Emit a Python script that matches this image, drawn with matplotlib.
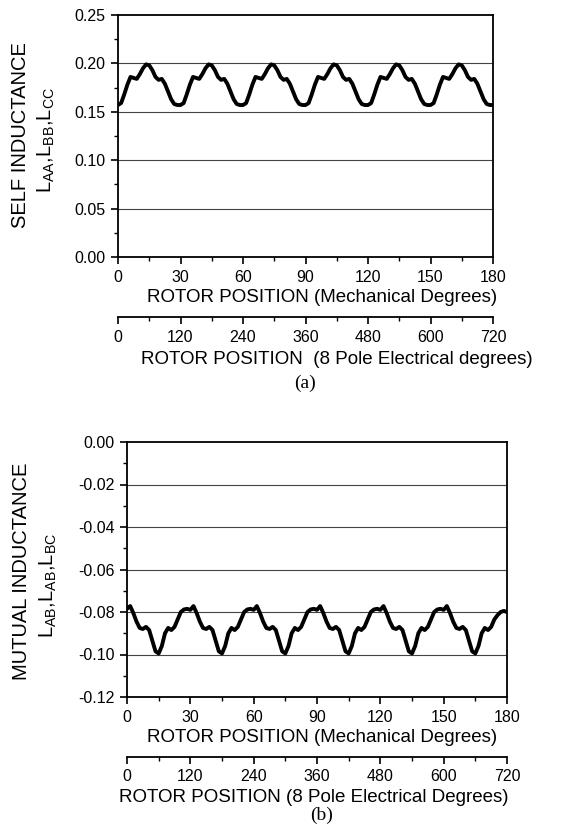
import numpy as np
import matplotlib
matplotlib.use("Agg")
import matplotlib.pyplot as plt
from matplotlib.ticker import MultipleLocator

plt.rcParams['font.family'] = ['Liberation Sans', 'DejaVu Sans']
plt.rcParams['mathtext.fontset'] = 'custom'
plt.rcParams['mathtext.rm'] = 'Liberation Sans'
plt.rcParams['mathtext.it'] = 'Liberation Sans'

# ---------------- data ----------------
step_deg = 1.5
self_L = [
    0.157, 0.159, 0.168, 0.178, 0.186, 0.185, 0.184, 0.189, 0.195, 0.199,
    0.198, 0.193, 0.186, 0.183, 0.184, 0.179, 0.171, 0.163, 0.158, 0.157,
    0.157, 0.159, 0.168, 0.178, 0.186, 0.185, 0.184, 0.189, 0.195, 0.199,
    0.198, 0.193, 0.186, 0.183, 0.184, 0.179, 0.171, 0.163, 0.158, 0.157,
    0.157, 0.159, 0.168, 0.178, 0.186, 0.185, 0.184, 0.189, 0.195, 0.199,
    0.198, 0.193, 0.186, 0.183, 0.184, 0.179, 0.171, 0.163, 0.158, 0.157,
    0.157, 0.159, 0.168, 0.178, 0.186, 0.185, 0.184, 0.189, 0.195, 0.199,
    0.198, 0.193, 0.186, 0.183, 0.184, 0.179, 0.171, 0.163, 0.158, 0.157,
    0.157, 0.159, 0.168, 0.178, 0.186, 0.185, 0.184, 0.189, 0.195, 0.199,
    0.198, 0.193, 0.186, 0.183, 0.184, 0.179, 0.171, 0.163, 0.158, 0.157,
    0.157, 0.159, 0.168, 0.178, 0.186, 0.185, 0.184, 0.189, 0.195, 0.199,
    0.198, 0.193, 0.186, 0.183, 0.184, 0.179, 0.171, 0.163, 0.158, 0.157,
    0.157,
]
mutual_L = [
    -0.0785, -0.0772, -0.0805, -0.0845, -0.0875, -0.0880, -0.0870, -0.0885, -0.0935, -0.0985,
    -0.0995, -0.0960, -0.0900, -0.0875, -0.0885, -0.0870, -0.0835, -0.0800, -0.0788, -0.0785,
    -0.0790, -0.0772, -0.0805, -0.0845, -0.0875, -0.0880, -0.0870, -0.0885, -0.0935, -0.0985,
    -0.0995, -0.0960, -0.0900, -0.0875, -0.0885, -0.0870, -0.0835, -0.0800, -0.0788, -0.0785,
    -0.0790, -0.0772, -0.0805, -0.0845, -0.0875, -0.0880, -0.0870, -0.0885, -0.0935, -0.0985,
    -0.0995, -0.0960, -0.0900, -0.0875, -0.0885, -0.0870, -0.0835, -0.0800, -0.0788, -0.0785,
    -0.0790, -0.0772, -0.0805, -0.0845, -0.0875, -0.0880, -0.0870, -0.0885, -0.0935, -0.0985,
    -0.0995, -0.0960, -0.0900, -0.0875, -0.0885, -0.0870, -0.0835, -0.0800, -0.0788, -0.0785,
    -0.0790, -0.0772, -0.0805, -0.0845, -0.0875, -0.0880, -0.0870, -0.0885, -0.0935, -0.0985,
    -0.0995, -0.0960, -0.0900, -0.0875, -0.0885, -0.0870, -0.0835, -0.0800, -0.0788, -0.0785,
    -0.0790, -0.0772, -0.0805, -0.0845, -0.0875, -0.0880, -0.0870, -0.0885, -0.0935, -0.0985,
    -0.0995, -0.0960, -0.0900, -0.0875, -0.0885, -0.0870, -0.0835, -0.0815, -0.0800, -0.0795,
    -0.0800,
]
mech_ticks = [0, 30, 60, 90, 120, 150, 180]
elec_ticks = [0, 120, 240, 360, 480, 600, 720]
self_yticks = [0.00, 0.05, 0.10, 0.15, 0.20, 0.25]
mutual_yticks = [-0.12, -0.10, -0.08, -0.06, -0.04, -0.02, 0.00]

theta_self = np.arange(len(self_L)) * step_deg
theta_mut = np.arange(len(mutual_L)) * step_deg

W, H = 562, 825
fig = plt.figure(figsize=(W / 100, H / 100), dpi=100)

TICK_FS = 11.5
LAB_FS = 13.5
YLAB_FS = 14.5


def fx(px):
    return px / W


def fy(py):
    return 1 - py / H


def style_axes(ax, yticks, yminor, fmt):
    ax.set_xlim(0, 180)
    ax.set_ylim(yticks[0], yticks[-1])
    ax.set_xticks(mech_ticks)
    ax.xaxis.set_minor_locator(MultipleLocator(15))
    ax.set_yticks(yticks)
    ax.set_yticklabels([fmt.format(v) for v in yticks])
    ax.yaxis.set_minor_locator(MultipleLocator(yminor))
    for v in yticks[1:-1]:
        ax.axhline(v, color='#444444', lw=0.8, zorder=1)
    for s in ax.spines.values():
        s.set_linewidth(1.3)
        s.set_color('black')
    ax.tick_params(axis='both', which='major', direction='out', length=5, width=1.2,
                   labelsize=TICK_FS, pad=4)
    ax.tick_params(axis='both', which='minor', direction='out', length=3, width=1.0)


def add_elec(ax, loc):
    sec = ax.secondary_xaxis(loc, functions=(lambda x: x * 4, lambda x: x / 4))
    sec.set_xticks(elec_ticks)
    sec.xaxis.set_minor_locator(MultipleLocator(60))
    sec.spines['bottom'].set_linewidth(1.3)
    sec.tick_params(axis='x', which='major', direction='out', length=5, width=1.2,
                    labelsize=TICK_FS, pad=4)
    sec.tick_params(axis='x', which='minor', direction='out', length=3, width=1.0)
    return sec


# ---------------- (a) self inductance ----------------
axa = fig.add_axes([fx(118), fy(257), fx(493) - fx(118), fy(15) - fy(257)])
style_axes(axa, self_yticks, 0.025, '{:.2f}')
axa.plot(theta_self, self_L, color='black', lw=2.8, solid_joinstyle='round',
         solid_capstyle='round', zorder=3)
add_elec(axa, -0.248)

fig.text(fx(322), fy(297), 'ROTOR POSITION (Mechanical Degrees)', ha='center', va='center',
         fontsize=LAB_FS)
fig.text(fx(337), fy(360), 'ROTOR POSITION  (8 Pole Electrical degrees)', ha='center',
         va='center', fontsize=LAB_FS)
fig.text(fx(305), fy(383), '(a)', ha='center', va='center', fontsize=14,
         family=['Liberation Serif', 'DejaVu Serif'])
fig.text(fx(20), fy(135), 'SELF INDUCTANCE', rotation=90, ha='center', va='center',
         fontsize=YLAB_FS)
fig.text(fx(46), fy(140), r'L$_{\mathrm{AA}}$,L$_{\mathrm{BB}}$,L$_{\mathrm{CC}}$',
         rotation=90, ha='center', va='center', fontsize=YLAB_FS)

# ---------------- (b) mutual inductance ----------------
axb = fig.add_axes([fx(127), fy(697), fx(507) - fx(127), fy(442) - fy(697)])
style_axes(axb, mutual_yticks, 0.01, '{:.2f}')
axb.plot(theta_mut, mutual_L, color='black', lw=2.8, solid_joinstyle='round',
         solid_capstyle='round', zorder=3)
add_elec(axb, -0.235)

fig.text(fx(322), fy(738), 'ROTOR POSITION (Mechanical Degrees)', ha='center', va='center',
         fontsize=LAB_FS)
fig.text(fx(314), fy(797), 'ROTOR POSITION (8 Pole Electrical Degrees)', ha='center',
         va='center', fontsize=LAB_FS)
fig.text(fx(322), fy(815), '(b)', ha='center', va='center', fontsize=14,
         family=['Liberation Serif', 'DejaVu Serif'])
fig.text(fx(22), fy(571), 'MUTUAL INDUCTANCE', rotation=90, ha='center', va='center',
         fontsize=YLAB_FS)
fig.text(fx(48), fy(585), r'L$_{\mathrm{AB}}$,L$_{\mathrm{AB}}$,L$_{\mathrm{BC}}$',
         rotation=90, ha='center', va='center', fontsize=YLAB_FS)

fig.savefig('out.png', dpi=100)
